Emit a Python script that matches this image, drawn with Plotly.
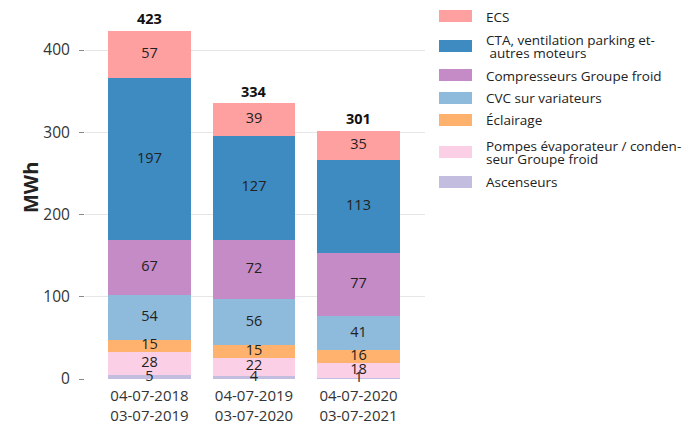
import plotly.graph_objects as go

categories = ["04-07-2018<br>03-07-2019", "04-07-2019<br>03-07-2020", "04-07-2020<br>03-07-2021"]
ascenseurs = [5, 4, 1]
pompes = [28, 22, 18]
eclairage = [15, 15, 16]
cvc = [54, 56, 41]
compresseurs = [67, 72, 77]
cta = [197, 127, 113]
ecs = [57, 39, 35]
totals = [423, 334, 301]

series = [
    ("Ascenseurs", ascenseurs, "#C3BEE0"),
    ("Pompes évaporateur / conden-<br>seur Groupe froid", pompes, "#FBD0E6"),
    ("Éclairage", eclairage, "#FFB26E"),
    ("CVC sur variateurs", cvc, "#8EBADB"),
    ("Compresseurs Groupe froid", compresseurs, "#C58BC6"),
    ("CTA, ventilation parking et-<br> autres moteurs", cta, "#3D8BC1"),
    ("ECS", ecs, "#FFA0A0"),
]

FONT = "Open Sans"
OFF = 8  # page offset of the figure inside the browser window
W, H = 692, 423
L, R, T, B = 85 - OFF, 267 + OFF, 22 - OFF, 44 + OFF
PW, PH = W - L - R, H - T - B

fig = go.Figure()
base = [0, 0, 0]
label_x, label_y, label_t = [], [], []
for name, vals, color in series:
    fig.add_trace(go.Bar(
        x=list(range(len(categories))), y=vals, name=name, marker_color=color,
        marker_line_width=0, width=0.79, showlegend=False,
    ))
    for i, v in enumerate(vals):
        label_x.append(i)
        label_y.append(base[i] + v / 2)
        label_t.append(str(v))
        base[i] += v

fig.add_trace(go.Scatter(
    x=label_x, y=label_y, text=label_t, mode="text",
    textfont=dict(family=FONT, size=14.5, color="#222222"),
    showlegend=False, hoverinfo="skip", cliponaxis=False,
))


def px_x(x):
    return (x - OFF - L) / PW


def px_y(y):
    return (H - B - (y - OFF)) / PH


annotations = []
for i, t in enumerate(totals):
    annotations.append(dict(x=i, y=t, xref="x", yref="y", text=f"<b>{t}</b>", showarrow=False,
                            xanchor="center", yanchor="bottom", yshift=1,
                            font=dict(family=FONT, size=14.5, color="#111111")))

# custom legend (wide swatches like the reference); target screen pixels
legend_rows = [  # (index into series, swatch-center y, first text line y)
    (6, 16, 17), (5, 46, 40), (4, 75, 76), (3, 98, 98), (2, 120, 120), (1, 152, 146), (0, 182, 182),
]
shapes = []
for idx, ysw, ytx in legend_rows:
    name, _, color = series[idx]
    shapes.append(dict(type="rect", xref="paper", yref="paper",
                       x0=px_x(439), x1=px_x(472), y0=px_y(ysw + 6), y1=px_y(ysw - 6),
                       fillcolor=color, line=dict(width=0)))
    for k, line in enumerate(name.split("<br>")):
        annotations.append(dict(xref="paper", yref="paper", x=px_x(484), y=px_y(ytx + 13 * k),
                                xanchor="left", yanchor="middle", align="left", showarrow=False,
                                text=line.replace(" ", "&nbsp;", 1) if line.startswith(" ") else line,
                                font=dict(family=FONT, size=13.5, color="#222222")))

annotations.append(dict(xref="paper", yref="paper", x=px_x(30), y=px_y(188),
                        xanchor="center", yanchor="middle", textangle=-90, showarrow=False,
                        text="<b>MWh</b>", font=dict(family=FONT, size=20, color="#222222")))

fig.update_layout(
    barmode="stack",
    width=W, height=H,
    paper_bgcolor="white", plot_bgcolor="white",
    margin=dict(l=L, r=R, t=T, b=B),
    font=dict(family=FONT, size=14, color="#333333"),
    showlegend=False,
    shapes=shapes,
    annotations=annotations,
    xaxis=dict(showline=False, ticks="", tickfont=dict(family=FONT, size=15, color="#333333"),
               tickmode="array", tickvals=list(range(len(categories))), ticktext=categories,
               range=[-0.617, 2.636], automargin=False, ticklabelstandoff=6),
    yaxis=dict(
        range=[0, PH / 0.8225], tickvals=[0, 100, 200, 300, 400],
        showgrid=True, gridcolor="#E6E6E6", gridwidth=1, zeroline=False,
        ticks="outside", ticklen=5, tickcolor="#888888",
        tickfont=dict(family=FONT, size=15.5, color="#333333"), automargin=False,
        ticklabelstandoff=6,
    ),
)

fig.write_html("out.html")
